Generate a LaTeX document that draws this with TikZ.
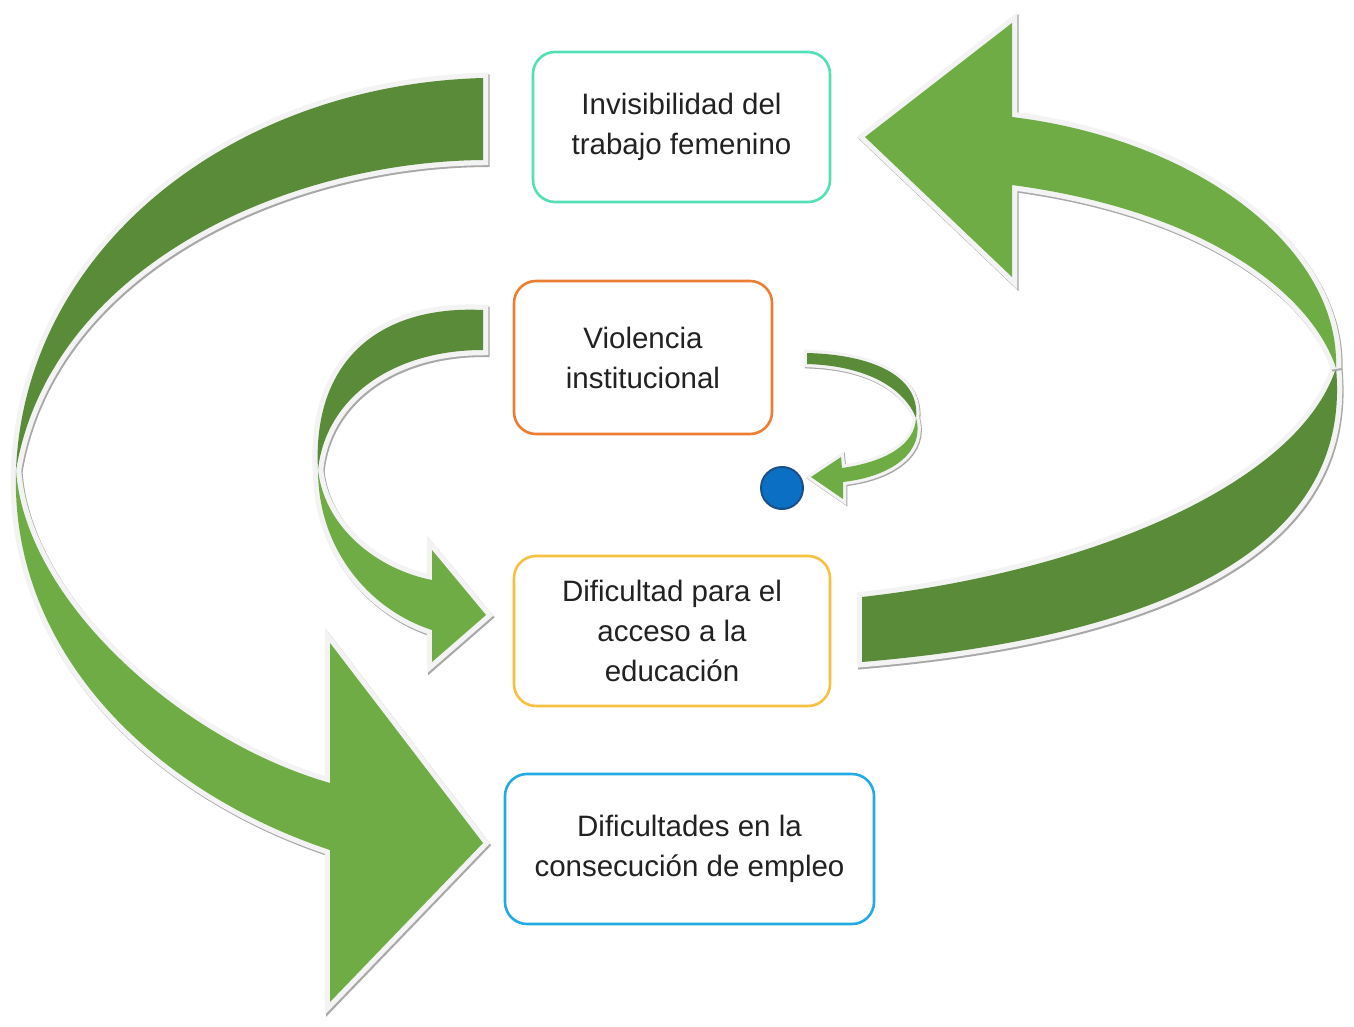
\documentclass[tikz,border=0pt]{standalone}
\usepackage{fontspec}
\setmainfont{Liberation Sans}
\definecolor{dkg}{HTML}{5A8B38}
\definecolor{ltg}{HTML}{6FAC46}
\definecolor{rimw}{HTML}{F3F3F3}
\definecolor{shadg}{HTML}{A8A8A8}
\definecolor{bxA}{HTML}{52E0B4}
\definecolor{bxB}{HTML}{ED7D31}
\definecolor{bxC}{HTML}{F5C140}
\definecolor{bxD}{HTML}{22ABE2}
\definecolor{txt}{HTML}{222222}
\definecolor{dotf}{HTML}{0B6FC3}
\definecolor{dotb}{HTML}{1B4F8A}
\begin{document}
\begin{tikzpicture}[x=1pt,y=-1pt,
  ribbon/.style={line join=miter, miter limit=4,
    preaction={draw=shadg, line width=10.5pt, line join=miter, miter limit=4, transform canvas={shift={(1.3pt,-1.8pt)}}},
    preaction={draw=rimw, line width=10.5pt, line join=miter, miter limit=4}},
  thinribbon/.style={line join=miter, miter limit=4,
    preaction={draw=shadg, line width=6.5pt, line join=miter, miter limit=4, transform canvas={shift={(1pt,-1.2pt)}}},
    preaction={draw=rimw, line width=6.5pt, line join=miter, miter limit=4}},
  box/.style={draw, line width=2.6pt, rounded corners=22pt, fill=white, align=center,
    text=txt, font=\fontsize{29.5}{40}\selectfont, inner sep=0pt}]
\useasboundingbox (0,0) rectangle (1354,1027);
\fill[white] (0,0) rectangle (1354,1027);

% ---------- back (dark) bands ----------
% big left arrow, back part
\fill[ribbon, fill=dkg] (483,78) .. controls (230,85) and (25,250) .. (16,470)
   .. controls (50,270) and (280,162) .. (483,160) -- cycle;
% medium arrow, back part
\fill[ribbon, fill=dkg] (483,310) .. controls (380,305) and (312,360) .. (318,470)
   .. controls (325,400) and (390,350) .. (483,350) -- cycle;
% right arrow, back part
\fill[ribbon, fill=dkg] (862,597) .. controls (1100,570) and (1300,480) .. (1336,368)
   .. controls (1352,540) and (1180,635) .. (862,662) -- cycle;
% small arrow, back part
\fill[thinribbon, fill=dkg] (807,353) .. controls (880,355) and (920,380) .. (916,418)
   .. controls (905,390) and (870,366) .. (807,364) -- cycle;

% ---------- front (light) bands with heads ----------
% big left arrow
\fill[ribbon, fill=ltg] (16,470) .. controls (25,600) and (180,740) .. (330,783)
   -- (330,643) -- (483,843) -- (330,1002) -- (330,850)
   .. controls (150,790) and (10,650) .. (16,470) -- cycle;
% medium arrow
\fill[ribbon, fill=ltg] (318,470) .. controls (325,530) and (380,570) .. (432,580)
   -- (432,550) -- (486,615) -- (432,662) -- (432,630)
   .. controls (370,610) and (318,550) .. (318,470) -- cycle;
% right arrow
\fill[ribbon, fill=ltg] (1336,368) .. controls (1340,250) and (1200,140) .. (1012,117)
   -- (1012,23) -- (865,137) -- (1012,277) -- (1012,185)
   .. controls (1200,210) and (1310,290) .. (1336,368) -- cycle;
% small arrow
\fill[thinribbon, fill=ltg] (916,418) .. controls (915,445) and (885,462) .. (842,468)
   -- (841,457) -- (811,477) -- (843,499) -- (843,482)
   .. controls (895,476) and (925,450) .. (916,418) -- cycle;

% blue dot
\node[circle, draw=dotb, fill=dotf, line width=2pt, minimum size=42pt, inner sep=0pt] (dot) at (782,488) {};

% ---------- boxes ----------
\node[box, draw=bxA, minimum width=297pt, minimum height=150pt] (inv) at (681.5,127)
  {Invisibilidad del\\trabajo femenino};
\node[box, draw=bxB, minimum width=258pt, minimum height=153pt] (vio) at (643,357.5)
  {Violencia\\institucional};
\node[box, draw=bxC, minimum width=316pt, minimum height=150pt] (edu) at (672,631)
  {Dificultad para el\\acceso a la\\educación};
\node[box, draw=bxD, minimum width=369pt, minimum height=150pt] (emp) at (689.5,849)
  {Dificultades en la\\consecución de empleo};
\end{tikzpicture}
\end{document}
